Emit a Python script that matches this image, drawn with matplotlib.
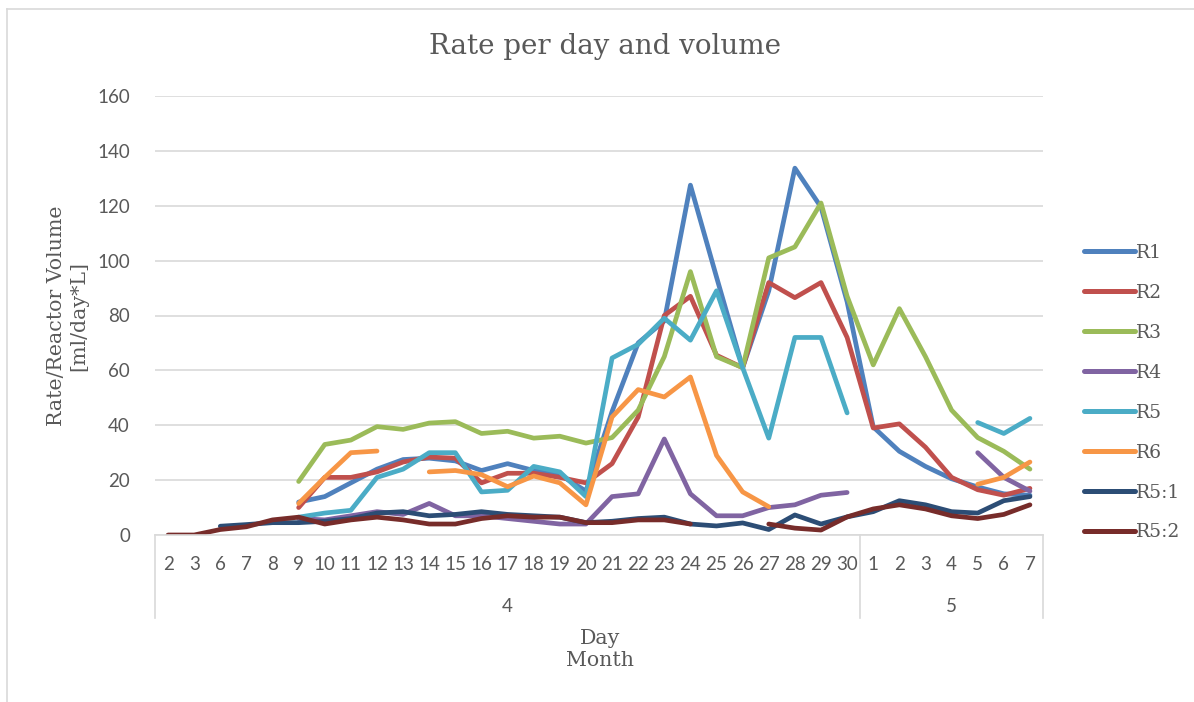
"""
Rate per day and volume, per reactor, over days of months 4 and 5.
"""

import numpy as np
import matplotlib
matplotlib.use("Agg")
import matplotlib.pyplot as plt

nan = np.nan

days = ['2', '3', '6', '7', '8', '9', '10', '11', '12', '13', '14', '15', '16',
        '17', '18', '19', '20', '21', '22', '23', '24', '25', '26', '27', '28',
        '29', '30', '1', '2', '3', '4', '5', '6', '7']
months = ['4', '5']
month_len = [27, 7]

r1 = [nan, nan, nan, nan, nan, 12, 14, 19, 24, 27.5, 28, 27, 23.5, 26, 23.5,
      22, 16, 45, 70, 78, 127.5, 94, 61, 89, 133.7, 119.5, 85, 39.4, 30.5, 25,
      20.5, 17.5, 15, 14.5]
r2 = [nan, nan, nan, nan, nan, 10, 21, 21, 23, 26.6, 28.4, 28, 19, 22.5, 22.5,
      21, 19, 26, 43, 80, 87, 65.5, 61, 92, 86.5, 92, 72, 39, 40.5, 32,
      21, 16.5, 14.5, 17]
r3 = [nan, nan, nan, nan, nan, 19.5, 33, 34.6, 39.5, 38.5, 40.8, 41.3, 37,
      37.8, 35.3, 36, 33.5, 35.5, 45.5, 65, 96, 65, 61, 101, 105, 121, 87,
      62, 82.5, 65, 45.5, 35.5, 30.5, 24]
r4 = [nan, nan, nan, nan, nan, 6, 5.5, 7, 8.5, 7.5, 11.5, 7, 7, 6, 5, 4, 4,
      14, 15, 35, 15, 7, 7, 10, 11, 14.5, 15.5, nan, nan, nan, nan, 30, 21, 16]
r5 = [nan, nan, nan, nan, nan, 6.5, 8, 9, 21, 24, 30, 30, 15.7, 16.3, 25, 23,
      14, 64.5, 69.5, 79, 71, 89, 61, 35.3, 72, 72, 44.5, nan, nan, nan, nan,
      41, 37, 42.5]
r6 = [nan, nan, nan, nan, nan, 11.5, 21, 30, 30.6, nan, 23, 23.5, 22, 17.6,
      21.5, 19, 11, 43, 53, 50.3, 57.6, 29, 15.7, 10.3, nan, nan, nan, nan,
      nan, nan, nan, 18.5, 21, 26.6]
r5_1 = [nan, nan, 3.2, 3.8, 4.5, 4.5, 5, 6, 8, 8.5, 7, 7.5, 8.5, 7.5, 7, 6.5,
        4.5, 5, 6, 6.5, 4, 3.3, 4.4, 2, 7.3, 4, 6.6, 8.5, 12.5, 11, 8.5, 8,
        12.5, 14]
r5_2 = [0, 0, 2, 3, 5.5, 6.5, 4, 5.5, 6.5, 5.5, 4, 4, 6, 7, 6.5, 6.5, 4.5,
        4.5, 5.5, 5.5, 4, nan, nan, 4, 2.5, 1.8, 6.6, 9.5, 11, 9.5, 7, 6, 7.5,
        11]

series = [('R1', r1, '#4F81BD'), ('R2', r2, '#C0504D'), ('R3', r3, '#9BBB59'),
          ('R4', r4, '#8064A2'), ('R5', r5, '#4BACC6'), ('R6', r6, '#F79646'),
          ('R5:1', r5_1, '#2C4D75'), ('R5:2', r5_2, '#772C2A')]

serif = 'DejaVu Serif'
sans = 'Lato'
grey = '#595959'
grid = '#d9d9d9'

W, H = 1194, 702
fig = plt.figure(figsize=(W / 100, H / 100), dpi=100)
ax = fig.add_axes([155 / W, (H - 535) / H, 888 / W, 439 / H])

x = np.arange(len(days))
for name, vals, col in series:
    ax.plot(x, vals, color=col, lw=3.4, label=name,
            solid_joinstyle='round', solid_capstyle='round')

ax.set_xlim(-0.5, len(days) - 0.5)
ax.set_ylim(0, 160)
ax.set_yticks(np.arange(0, 161, 20))
ax.yaxis.grid(True, color=grid, lw=1.2)
ax.set_axisbelow(True)
for s in ax.spines.values():
    s.set_visible(False)
ax.tick_params(axis='y', length=0, pad=18, labelsize=13.5, labelcolor=grey)
for t in ax.get_yticklabels():
    t.set_fontfamily(sans)
ax.set_xticks([])

# multi-level category axis
tr = ax.get_xaxis_transform()
ax.plot([-0.5, len(days) - 0.5], [0, 0], color=grid, lw=1.2, transform=tr,
        clip_on=False)
for i, d in enumerate(days):
    ax.text(i, -0.068, d, transform=tr, ha='center', va='center',
            fontsize=13.5, color=grey, family=sans)
start = -0.5
edges = [start]
for m, n in zip(months, month_len):
    ax.text(start + n / 2, -0.162, m, transform=tr, ha='center', va='center',
            fontsize=13.5, color=grey, family=sans)
    start += n
    edges.append(start)
for e in edges:
    ax.plot([e, e], [0, -0.19], color=grid, lw=1.2, transform=tr,
            clip_on=False)

fig.text(605 / W, 1 - 47 / H, 'Rate per day and volume', ha='center',
         va='center', fontsize=20, color=grey, family=serif)
fig.text(68 / W, 1 - 316 / H, 'Rate/Reactor Volume\n[ml/day*L]', rotation=90,
         ha='center', va='center', fontsize=14.8, color=grey, family=serif,
         linespacing=1.2)
fig.text(600 / W, 1 - 649 / H, 'Day\nMonth', ha='center', va='center',
         fontsize=14.8, color=grey, family=serif, linespacing=1.2)

leg = fig.legend(loc='upper left', bbox_to_anchor=(1067 / W, 1 - 227 / H),
                 frameon=False, handlelength=2.7, handletextpad=0.1,
                 labelspacing=1.17, prop={'family': serif, 'size': 13.5})
for t in leg.get_texts():
    t.set_color(grey)
for h in leg.get_lines():
    h.set_linewidth(3.6)

# outer chart border (left and top edges)
fig.add_artist(plt.Line2D([7 / W, 7 / W], [0, 1 - 9 / H], color=grid, lw=1.2))
fig.add_artist(plt.Line2D([7 / W, 1], [1 - 9 / H, 1 - 9 / H], color=grid,
                          lw=1.2))

fig.savefig('out.png', dpi=100)
